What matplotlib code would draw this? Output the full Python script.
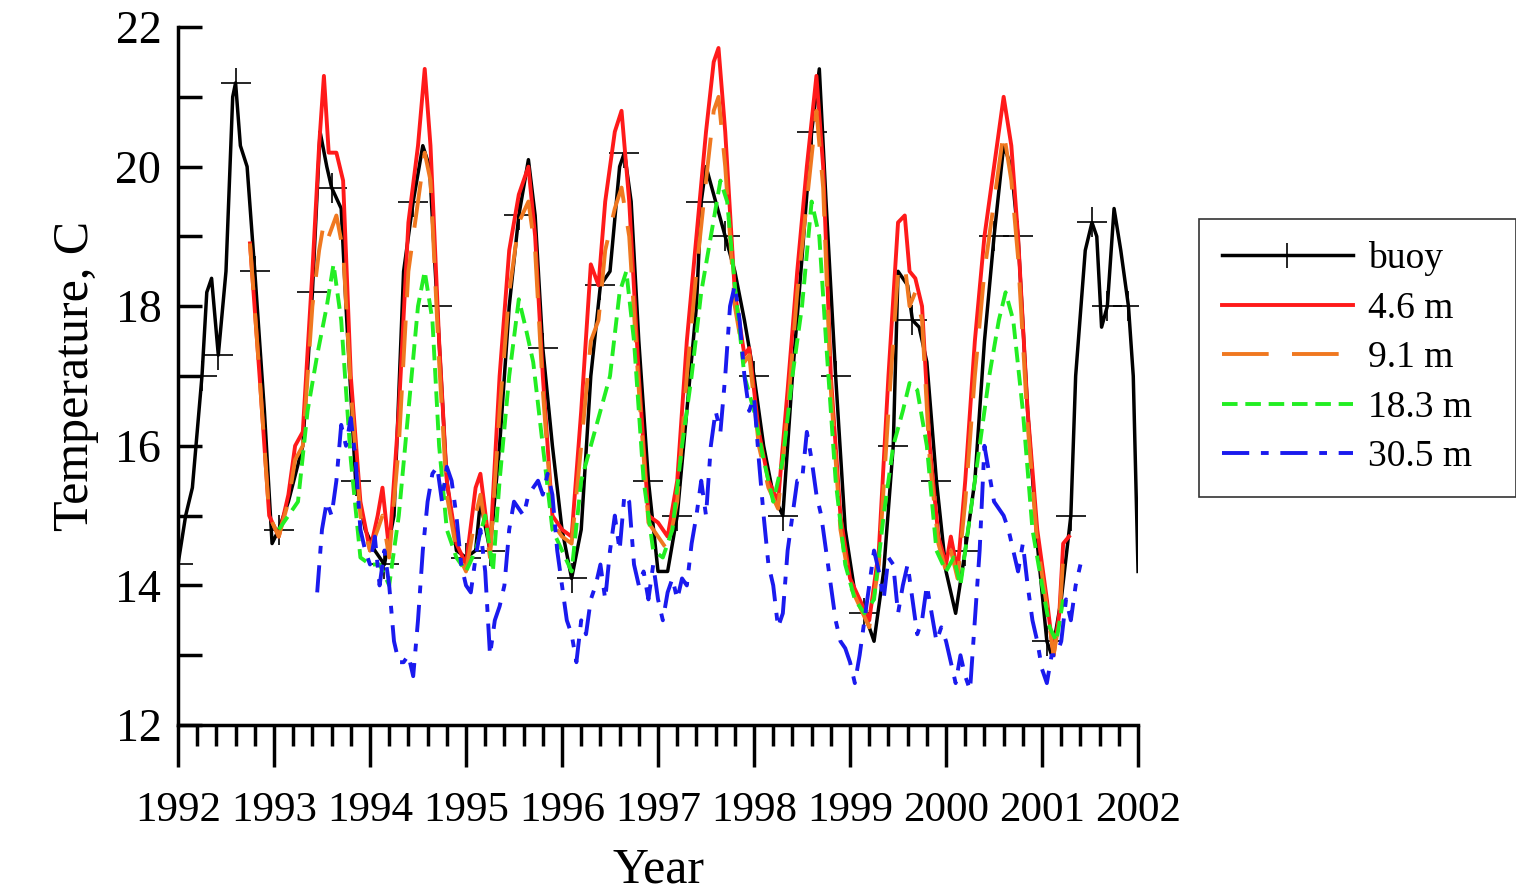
import matplotlib.pyplot as plt
import numpy as np

plt.rcParams['font.family'] = ['Liberation Serif', 'DejaVu Serif']

# values (year, temperature C)
buoy_t = [1992.0, 1992.08, 1992.15, 1992.25, 1992.3, 1992.35, 1992.42, 1992.5, 1992.57, 1992.6,
          1992.65, 1992.72, 1992.8, 1992.9, 1992.98, 1993.05, 1993.15, 1993.3, 1993.4, 1993.48,
          1993.55, 1993.6, 1993.7, 1993.75, 1993.85, 1993.95, 1994.05, 1994.15, 1994.25, 1994.35,
          1994.45, 1994.55, 1994.62, 1994.7, 1994.8, 1994.9, 1995.0, 1995.1, 1995.15, 1995.25,
          1995.35, 1995.45, 1995.55, 1995.65, 1995.72, 1995.8, 1995.9, 1996.0, 1996.1, 1996.2,
          1996.3, 1996.4, 1996.5, 1996.6, 1996.65, 1996.72, 1996.8, 1996.9, 1997.0, 1997.1,
          1997.2, 1997.3, 1997.4, 1997.45, 1997.5, 1997.6, 1997.7, 1997.8, 1997.9, 1998.0,
          1998.1, 1998.2, 1998.3, 1998.4, 1998.5, 1998.6, 1998.68, 1998.75, 1998.85, 1998.95,
          1999.05, 1999.15, 1999.25, 1999.35, 1999.45, 1999.5, 1999.6, 1999.65, 1999.72, 1999.8,
          1999.9, 2000.0, 2000.1, 2000.2, 2000.3, 2000.4, 2000.5, 2000.6, 2000.68, 2000.75,
          2000.85, 2000.95, 2001.05, 2001.1, 2001.2, 2001.3, 2001.35, 2001.45, 2001.52, 2001.57,
          2001.62, 2001.68, 2001.75, 2001.82, 2001.9, 2001.95, 2002.0]
buoy_v = [14.3, 15.0, 15.4, 17.0, 18.2, 18.4, 17.3, 18.5, 21.0, 21.2,
          20.3, 20.0, 18.5, 16.5, 14.6, 14.8, 15.2, 16.0, 18.2, 20.5,
          20.0, 19.7, 19.4, 18.0, 15.5, 14.8, 14.5, 14.3, 15.0, 18.5,
          19.5, 20.3, 20.0, 18.0, 15.5, 14.5, 14.4, 14.5, 15.2, 14.5,
          16.0, 18.0, 19.3, 20.1, 19.3, 17.4, 16.0, 14.8, 14.1, 14.8,
          17.0, 18.3, 18.5, 20.0, 20.2, 19.5, 17.5, 15.5, 14.2, 14.2,
          15.0, 16.5, 18.0, 19.5, 20.0, 19.5, 19.0, 18.5, 17.8, 17.0,
          16.0, 15.3, 15.0, 17.0, 18.7, 20.5, 21.4, 19.5, 17.0, 14.8,
          13.9, 13.6, 13.2, 14.2, 16.0, 18.5, 18.3, 17.8, 17.7, 17.2,
          15.5, 14.2, 13.6, 14.5, 15.5, 17.5, 19.0, 20.3, 20.0, 19.0,
          16.5, 14.6, 13.2, 13.0, 13.8, 15.0, 17.0, 18.8, 19.2, 19.0,
          17.7, 18.0, 19.4, 18.8, 18.0, 17.0, 14.2]

upper_t = [1992.75, 1992.85, 1992.95,
           1993.05, 1993.15, 1993.22, 1993.3, 1993.4, 1993.47, 1993.52, 1993.57, 1993.65, 1993.72, 1993.8, 1993.9,
           1994.0, 1994.08, 1994.13, 1994.2, 1994.3, 1994.4, 1994.5, 1994.57, 1994.63, 1994.72, 1994.8, 1994.9,
           1995.0, 1995.1, 1995.15, 1995.25, 1995.35, 1995.45, 1995.55, 1995.65, 1995.72, 1995.8, 1995.9,
           1996.0, 1996.1, 1996.2, 1996.3, 1996.38, 1996.45, 1996.55, 1996.62, 1996.7, 1996.8, 1996.9,
           1997.0, 1997.1, 1997.2, 1997.3, 1997.4, 1997.5, 1997.58, 1997.63, 1997.7, 1997.8, 1997.9, 1997.95,
           1998.05, 1998.15, 1998.25, 1998.35, 1998.45, 1998.55, 1998.65, 1998.72, 1998.8, 1998.9,
           1999.0, 1999.1, 1999.2, 1999.3, 1999.4, 1999.5, 1999.57, 1999.62, 1999.68, 1999.75, 1999.83, 1999.92,
           2000.0, 2000.05, 2000.12, 2000.2, 2000.3, 2000.4, 2000.5, 2000.6, 2000.68, 2000.75, 2000.85, 2000.95,
           2001.05, 2001.12, 2001.18, 2001.22, 2001.28]
red_v = [18.9, 17.0, 15.0,
         14.7, 15.3, 16.0, 16.2, 18.5, 20.3, 21.3, 20.2, 20.2, 19.8, 17.0, 15.2,
         14.5, 15.0, 15.4, 14.5, 16.5, 19.2, 20.3, 21.4, 20.3, 17.5, 15.5, 14.6,
         14.3, 15.4, 15.6, 14.5, 17.0, 18.8, 19.6, 20.0, 19.0, 17.0, 15.0,
         14.8, 14.7, 16.5, 18.6, 18.3, 19.5, 20.5, 20.8, 19.5, 17.0, 15.0,
         14.9, 14.7, 15.5, 17.5, 19.0, 20.5, 21.5, 21.7, 20.5, 18.2, 17.3, 17.4,
         16.2, 15.5, 15.2, 16.8, 18.5, 20.0, 21.3, 20.0, 17.0, 15.0,
         14.1, 13.8, 13.5, 14.5, 17.0, 19.2, 19.3, 18.5, 18.4, 18.0, 16.0, 14.7,
         14.3, 14.7, 14.2, 15.5, 17.5, 19.0, 20.0, 21.0, 20.3, 19.0, 16.5, 14.8,
         13.8, 13.0, 13.6, 14.6, 14.7]
orange_v = [18.9, 17.0, 15.0,
            14.7, 15.2, 15.8, 16.0, 18.0, 18.8, 19.2, 19.0, 19.3, 18.8, 16.8, 15.0,
            14.5, 14.8, 15.0, 14.4, 16.0, 18.5, 19.5, 20.2, 19.8, 17.2, 15.3, 14.5,
            14.2, 15.0, 15.3, 14.4, 16.5, 18.2, 19.2, 19.5, 18.8, 16.8, 14.9,
            14.7, 14.6, 16.0, 17.5, 17.8, 18.8, 19.4, 19.7, 19.0, 16.8, 14.9,
            14.7, 14.5, 15.2, 17.0, 18.5, 19.8, 20.8, 21.0, 20.0, 18.0, 17.2, 17.3,
            16.0, 15.4, 15.1, 16.5, 18.2, 19.5, 20.8, 19.7, 16.8, 14.8,
            14.0, 13.7, 13.4, 14.3, 16.5, 18.5, 18.6, 18.0, 18.2, 17.8, 15.8, 14.6,
            14.2, 14.5, 14.1, 15.2, 17.0, 18.5, 19.5, 20.5, 19.8, 18.7, 16.3, 14.6,
            13.7, 13.0, 13.5, 14.4, 14.5]

green_t = [1993.05, 1993.15, 1993.25, 1993.35, 1993.45, 1993.55, 1993.62, 1993.7, 1993.8, 1993.9,
           1994.0, 1994.1, 1994.2, 1994.3, 1994.4, 1994.5, 1994.57, 1994.65, 1994.72, 1994.8, 1994.9,
           1995.0, 1995.1, 1995.2, 1995.28, 1995.35, 1995.45, 1995.55, 1995.62, 1995.7, 1995.8, 1995.9,
           1996.0, 1996.1, 1996.2, 1996.3, 1996.4, 1996.5, 1996.6, 1996.67, 1996.75, 1996.85, 1996.95,
           1997.05, 1997.15, 1997.25, 1997.35, 1997.45, 1997.55, 1997.65, 1997.72, 1997.8, 1997.9,
           1998.0, 1998.1, 1998.2, 1998.3, 1998.4, 1998.5, 1998.6, 1998.68, 1998.75, 1998.85, 1998.95,
           1999.05, 1999.15, 1999.25, 1999.35, 1999.45, 1999.55, 1999.62, 1999.7, 1999.8, 1999.9,
           2000.0, 2000.08, 2000.15, 2000.25, 2000.35, 2000.45, 2000.55, 2000.62, 2000.7, 2000.8, 2000.9,
           2001.0, 2001.08, 2001.15, 2001.22]
green_v = [14.8, 15.0, 15.2, 16.5, 17.3, 18.0, 18.6, 17.8, 15.8, 14.4,
           14.3, 14.3, 14.0, 15.0, 16.5, 18.0, 18.5, 17.8, 16.0, 14.8, 14.4,
           14.2, 14.5, 15.0, 14.2, 15.5, 17.0, 18.1, 17.7, 17.2, 16.0, 14.8,
           14.5, 14.2, 15.5, 16.0, 16.5, 17.0, 18.2, 18.5, 17.5, 15.5, 14.5,
           14.4, 14.8, 16.0, 17.0, 18.2, 19.0, 19.8, 19.5, 18.3, 17.0,
           16.5, 15.8, 15.2, 15.8, 17.0, 18.0, 19.5, 19.0, 17.5, 15.5, 14.3,
           13.8, 13.6, 13.8, 15.0, 16.0, 16.5, 16.9, 16.8, 16.0, 14.5,
           14.2, 14.4, 14.0, 15.0, 16.0, 17.0, 17.8, 18.2, 17.8, 16.5, 14.8,
           14.0, 13.4, 13.2, 13.8]

# 30.5 m sampled every 0.05 yr from 1993.45
blue_start = 1993.45
blue_v = [13.9, 14.8, 15.2, 15.0, 15.5, 16.3, 16.0, 16.4, 15.8, 14.8, 14.5,
          14.3, 14.7, 14.0, 14.5, 14.0, 13.2, 12.9, 12.9, 13.0, 12.7, 13.5, 14.5, 15.2, 15.6, 15.7,
          15.2, 15.7, 15.5, 15.0, 14.3,
          14.0, 13.9, 14.4, 14.8, 14.2, 13.0, 13.5, 13.7, 14.0, 14.8, 15.2, 15.1, 15.0, 15.3, 15.4,
          15.5, 15.3, 15.6, 15.3, 14.5,
          14.0, 13.5, 13.3, 12.9, 13.5, 13.3, 13.8, 14.0, 14.3, 13.8, 14.5, 15.0, 14.5, 15.3, 15.2,
          14.3, 14.0, 14.2, 13.8, 14.3,
          13.8, 13.5, 13.9, 14.1, 13.8, 14.1, 14.0, 14.6, 15.0, 15.5, 15.0, 16.0, 16.5, 16.2, 17.0,
          18.0, 18.3, 17.8, 17.0, 16.5,
          16.7, 15.8, 15.0, 14.3, 14.0, 13.4, 13.6, 14.5, 15.0, 15.5, 15.5, 16.2, 15.8, 15.3, 15.0,
          14.5, 14.0, 13.5, 13.2, 13.1,
          12.9, 12.6, 13.0, 13.5, 14.0, 14.5, 14.2, 13.8, 14.4, 14.3, 13.6, 14.0, 14.3, 13.8, 13.3,
          13.5, 14.0, 13.6, 13.2, 13.4,
          13.2, 12.9, 12.6, 13.0, 12.7, 12.5, 13.5, 14.5, 16.0, 15.6, 15.2, 15.1, 15.0, 14.8, 14.5,
          14.2, 14.6, 14.0, 13.5, 13.2,
          12.8, 12.6, 13.0, 13.0, 13.2, 13.8, 13.5, 14.0, 14.3]

years = np.arange(1992, 2003)

fig = plt.figure(figsize=(15.16, 8.92), dpi=100)
ax = fig.add_axes([0.1174, 0.1872, 0.6333, 0.7825])

ax.plot(buoy_t, buoy_v, color='black', lw=2.5, marker='+', ms=22, mew=1.2, markevery=3, label='buoy')
ax.plot(upper_t, red_v, color='#ff1a1a', lw=2.8, label='4.6 m')
ax.plot(upper_t, orange_v, color='#f07820', lw=2.8, dashes=(12, 6), label='9.1 m')
ax.plot(green_t, green_v, color='#22ee22', lw=2.8, dashes=(4, 2), label='18.3 m')
blue_t = blue_start + 0.05 * np.arange(len(blue_v))
ax.plot(blue_t, blue_v, color='#1a1aee', lw=2.8, dashes=(7, 3, 2, 3), label='30.5 m')

ax.set_xlim(1992, 2002)
ax.set_ylim(12, 22)
ax.spines['top'].set_visible(False)
ax.spines['right'].set_visible(False)
for s in ('left', 'bottom'):
    ax.spines[s].set_linewidth(2.5)

ax.set_xticks(years)
ax.set_xticks(np.arange(1992, 2002.01, 0.2), minor=True)
ax.set_yticks(np.arange(12, 23, 2))
ax.set_yticks(np.arange(13, 22, 2), minor=True)
ax.tick_params(axis='x', which='major', direction='out', length=30, width=2.5, labelsize=31, pad=18)
ax.tick_params(axis='x', which='minor', direction='out', length=15, width=2.5)
ax.tick_params(axis='y', which='major', direction='in', length=17, width=2.5, labelsize=33, pad=12)
ax.tick_params(axis='y', which='minor', direction='in', length=17, width=2.5)

ax.set_xlabel('Year', fontsize=36, labelpad=12)
ax.set_ylabel('Temperature, C', fontsize=36, labelpad=12)

leg = fig.legend(loc='center left', bbox_to_anchor=(0.791, 0.428, 0.209, 0.342), mode='expand',
                 fontsize=27, frameon=True, fancybox=False, edgecolor='black',
                 handlelength=3.5, handletextpad=0.4, labelspacing=0.4, borderpad=0.6,
                 borderaxespad=0)
leg.get_frame().set_linewidth(1.2)
for h in leg.get_lines():
    h.set_markersize(18)

fig.savefig('out.png', dpi=100)
